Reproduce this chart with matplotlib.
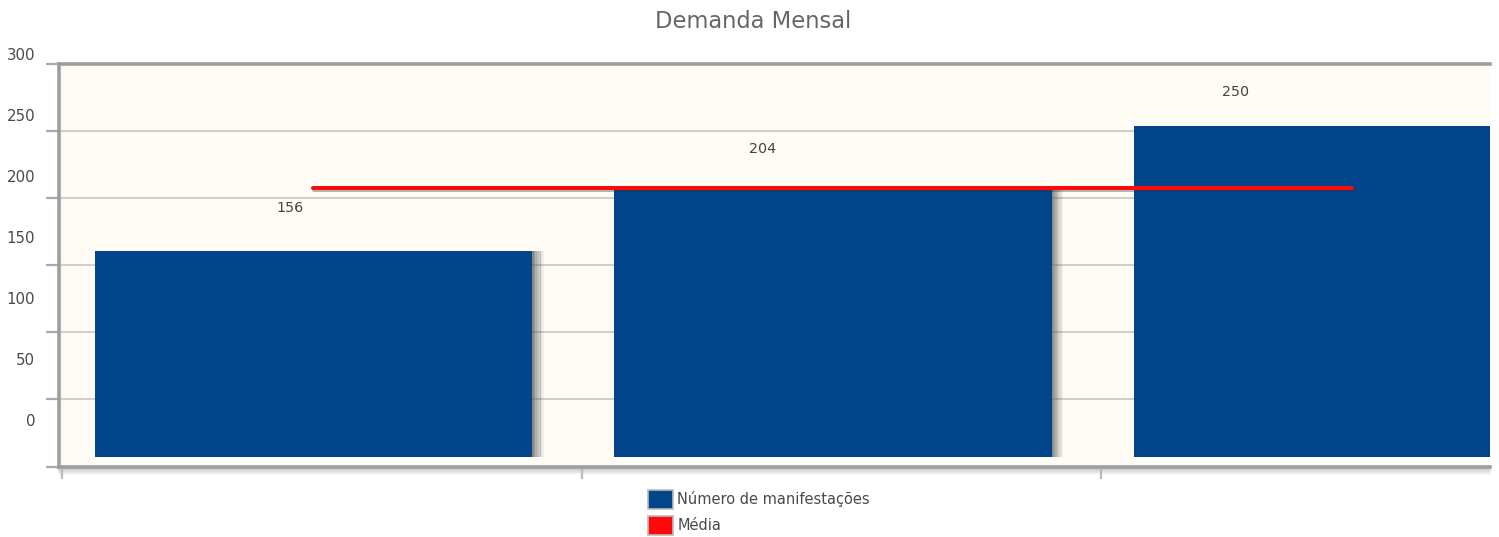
import numpy as np
import matplotlib
matplotlib.use("Agg")
import matplotlib.pyplot as plt
import matplotlib.patheffects as pe
from matplotlib.patches import Patch
from matplotlib.transforms import ScaledTranslation

# ---- data ----
categories = ["Mês 1", "Mês 2", "Mês 3"]
values = [156, 204, 250]
series_bar = "Número de manifestações"
series_line = "Média"
title = "Demanda Mensal"
ytick_values = [0, 50, 100, 150, 200, 250, 300]

mean_val = float(np.mean(values))

BAR = "#02458A"
RED = "#FF0A0A"
BG = "#FEFCF4"
GRID = "#CFCFCC"
SPINE = "#9E9E9E"
TXT = "#4A4A4A"

fig = plt.figure(figsize=(14.99, 5.37), dpi=100)
ax = fig.add_axes([58.5 / 1499, 1 - 466.5 / 537, (1490 - 58.5) / 1499, (466.5 - 64) / 537])
ax.set_facecolor(BG)

x = np.arange(len(values))
width = 0.842
ax.set_xlim(-0.4905, 2.265)
ylim = (-6.9, 296.8)
ax.set_ylim(*ylim)

# gridlines / y ticks
grid_pos = np.linspace(ylim[0], ylim[1], len(ytick_values))
ax.set_yticks(grid_pos)
ax.set_yticklabels([])
for g in grid_pos[1:-1]:
    ax.axhline(g, color=GRID, lw=1.5, zorder=0.5)
ax.tick_params(axis="y", direction="out", length=9.5, width=1.6, color="#AAAAAA")

# x ticks at category boundaries (with depth offset)
depth = 8 / 519.5
ax.set_xticks(np.arange(len(values)) - 0.5 + depth + 0.001)
ax.set_xticklabels([])
ax.tick_params(axis="x", direction="out", length=8.5, width=1.6, color="#BBBBBB")

# bar shadows
for k in range(7):
    ax.bar(x + width / 2 + (k + 0.5) * 1.7 / 519.5, values, width=1.8 / 519.5,
           color="#555555", alpha=0.7 * (1 - k / 7) ** 1.2, linewidth=0, zorder=1.5)
ax.bar(x, values, width=width, color=BAR, linewidth=0, zorder=2)

# mean line
ax.plot([x[0], x[-1]], [mean_val, mean_val], color=RED, lw=2.9, zorder=3,
        solid_capstyle="round",
        path_effects=[pe.SimpleLineShadow(offset=(0.5, -1.5), shadow_color="#333333", alpha=0.35),
                      pe.Normal()])

# value labels
for i, v in enumerate(values):
    ax.text(0.91 * i - 0.045, 0.93 * v + 43, f"{v}", ha="center", va="center",
            fontsize=10.3, color="#444444", zorder=4)

# y tick labels
for v in ytick_values:
    ax.text(-0.5357, 27.2 + 0.92 * v, f"{v}", ha="right", va="center",
            fontsize=10.8, color=TXT, clip_on=False)

# spines
for s in ["left", "top", "bottom"]:
    ax.spines[s].set_color(SPINE)
    ax.spines[s].set_linewidth(2.6)
ax.spines["right"].set_visible(False)

# bottom shadow
for k in range(1, 8):
    off = ScaledTranslation(0, -(k + 0.5) / 100, fig.dpi_scale_trans)
    ax.plot([0, 1], [0, 0], transform=ax.transAxes + off, color="#888888",
            alpha=0.4 * (1 - k / 8), lw=1.1, clip_on=False, zorder=0.4)

# title
fig.text(753 / 1499, 1 - 21 / 537, title, ha="center", va="center", fontsize=16.3, color="#666666")

# legend
handles = [Patch(facecolor=BAR, edgecolor="#BBBBBB", linewidth=1.2, label=series_bar),
           Patch(facecolor=RED, edgecolor="#BBBBBB", linewidth=1.2, label=series_line)]
fig.legend(handles=handles, loc="upper left", bbox_to_anchor=(648 / 1499, 1 - 489.5 / 537),
           frameon=False, fontsize=10.5, handlelength=1.7, handleheight=1.7,
           handletextpad=0.3, labelspacing=0.45, borderaxespad=0, borderpad=0,
           labelcolor=TXT)

fig.savefig("out.png", dpi=100, facecolor="white")
